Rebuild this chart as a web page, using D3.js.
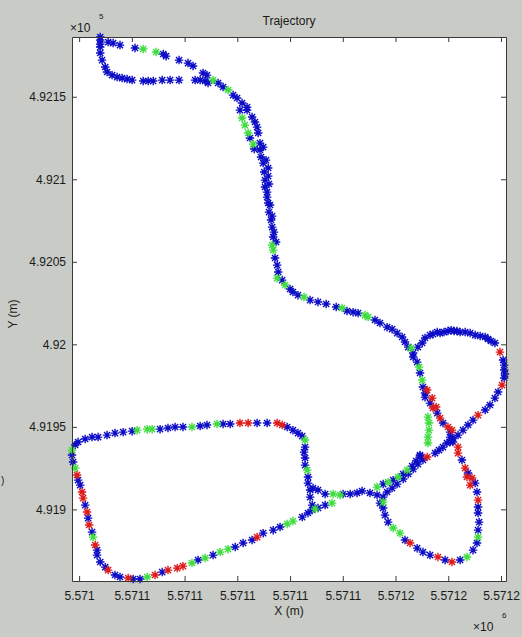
<!DOCTYPE html>
<html>
<head>
<meta charset="utf-8" />
<title>Trajectory</title>
<script src="https://d3js.org/d3.v7.min.js"></script>
<style>
body {
    margin: 0;
    background-color: #c9cbc6;
}
svg {
    display: block;
    font-family: "Liberation Sans", Arial, sans-serif;
}
</style>
</head>
<body>
<svg id="chart"></svg>
<script>
// local origin of the track, metres (UTM-like X / Y)
var east0 = 5571000;
var north0 = 491800;

// tick positions (offsets from the origin) and the labels matlab printed
var xTicks = [40, 60, 80, 100, 120, 140, 160, 180, 200];
var xTickLabels = ["5.571", "5.5711", "5.5711", "5.5711", "5.5711", "5.5711", "5.5712", "5.5712", "5.5712"];
var yTicks = [100, 150, 200, 250, 300, 350];
var yTickLabels = ["4.919", "4.9195", "4.92", "4.9205", "4.921", "4.9215"];

// track samples: [east offset, north offset, fix class]
var northLoop = [
    [48.0,386.2,"b"],[48.0,384.3,"b"],[48.0,381.9,"b"],[48.0,380.1,"b"],[51.0,383.1,"b"],[52.9,382.5,"b"],
    [55.5,381.3,"b"],[61.2,379.5,"b"],[64.3,378.9,"g"],[69.2,377.1,"g"],[71.9,375.9,"b"],[73.0,374.6,"b"],
    [77.9,372.2,"b"],[81.3,370.4,"b"],[83.2,368.6,"b"],[87.0,364.4,"b"],[88.5,363.1,"b"],[90.8,360.1,"g"],
    [92.7,358.3,"b"],[94.6,355.9,"b"],[96.5,354.1,"g"],[98.4,351.0,"b"],[99.9,349.2,"b"],[101.8,346.2,"b"],
    [103.7,343.7,"b"],[101.0,341.9,"b"],[103.7,341.9,"b"]
];
var northLoopSouth = [
    [48.0,376.5,"b"],[48.7,372.2,"b"],[49.9,368.0,"b"],[50.6,365.0,"b"],[52.5,363.1,"b"],[54.4,361.9,"b"],
    [56.3,361.3,"b"],[58.2,360.7,"b"],[60.1,360.1,"b"],[64.3,359.5,"b"],[66.2,359.5,"b"],[68.1,359.5,"b"],
    [71.5,360.1,"b"],[74.5,360.1,"b"],[77.9,360.1,"b"],[84.0,360.1,"b"],[85.9,360.1,"b"],[87.8,359.5,"b"],
    [88.9,358.3,"b"]
];
var descent = [
    [105.6,337.7,"b"],[106.7,334.7,"b"],[107.5,331.6,"b"],[107.9,328.0,"b"],[108.6,321.9,"b"],[109.8,319.5,"b"],
    [108.6,317.7,"b"],[109.0,313.5,"b"],[110.9,311.6,"b"],[109.8,309.8,"b"],[111.7,306.8,"b"],[110.2,304.4,"b"],
    [111.7,301.9,"b"],[110.5,299.5,"b"],[112.0,297.1,"b"],[110.5,295.3,"b"],[111.3,292.2,"b"],[111.3,289.2,"b"],
    [111.7,285.6,"b"],[112.4,284.4,"b"],[112.0,280.1,"b"],[113.2,277.7,"b"],[112.8,275.3,"b"],[113.2,271.0,"b"],
    [113.9,268.0,"b"],[113.6,265.0,"b"],[114.7,262.0,"b"],[113.2,260.1,"g"],[113.6,257.1,"g"],[114.3,252.3,"b"],
    [115.1,248.0,"b"],[115.5,243.8,"b"],[115.1,240.1,"g"],[117.0,238.9,"b"],[118.1,235.9,"g"],[120.0,233.5,"b"],
    [121.1,231.7,"b"],[123.0,229.8,"b"],[125.3,228.6,"g"],[127.6,226.8,"b"],[130.6,225.6,"b"],[133.7,224.4,"b"],
    [137.5,222.6,"b"],[139.7,222.0,"g"],[141.6,220.2,"b"],[143.9,219.5,"b"],[145.8,218.9,"b"],[148.4,217.7,"g"],
    [149.6,216.5,"g"],[152.2,214.7,"b"],[154.1,212.9,"b"],[156.8,210.4,"b"],[158.7,209.2,"b"],[160.6,206.8,"b"],
    [162.5,204.4,"b"],[163.6,201.4,"b"],[164.8,198.3,"b"],[165.9,197.7,"g"],[166.7,194.7,"b"],[166.7,192.3,"b"]
];
var innerDescent = [
    [101.8,337.1,"g"],[102.9,332.8,"g"],[104.1,328.0,"g"],[104.8,325.0,"b"],[106.0,321.3,"g"],[106.4,318.3,"b"]
];
var eastLoopNorth = [
    [168.5,198.3,"b"],[170.1,200.8,"b"],[171.2,203.8,"b"],[173.1,205.6,"b"],[174.2,206.2,"b"],[175.8,207.4,"b"],
    [176.9,206.8,"b"],[178.4,207.4,"b"],[179.9,208.0,"b"],[181.1,208.6,"b"],[182.2,208.0,"b"],[183.3,208.0,"b"],
    [184.5,207.4,"b"],[186.4,207.4,"b"],[188.3,206.8,"b"],[190.2,205.6,"b"],[192.1,205.0,"b"],[194.0,204.4,"b"],
    [195.1,203.2,"b"],[196.2,202.0,"b"],[197.7,200.8,"b"],[199.6,195.3,"r"],[200.8,190.5,"b"],[201.2,187.4,"b"],
    [201.2,184.4,"b"],[201.5,182.0,"b"],[201.2,179.6,"b"],[200.4,175.3,"r"],[198.9,171.1,"b"],[197.7,167.4,"b"],
    [195.8,163.2,"b"],[194.0,160.2,"b"],[191.3,157.1,"r"],[189.4,154.1,"b"],[187.5,151.1,"b"],[185.6,148.0,"b"],
    [183.7,145.0,"b"],[181.8,143.2,"b"],[180.7,140.8,"b"],[179.5,140.2,"b"],[178.0,137.7,"b"],[176.5,135.9,"b"],
    [175.0,134.1,"b"],[172.0,131.7,"r"],[169.3,132.9,"b"]
];
var crossingLinkUpper = [
    [153.0,113.5,"g"],[155.3,115.3,"b"],[157.2,116.5,"g"],[159.1,117.7,"b"],[161.0,119.6,"g"],[162.9,121.4,"b"],
    [164.4,123.8,"g"],[166.3,126.2,"b"],[167.8,129.3,"b"],[169.3,132.3,"b"]
];
var crossingLinkLower = [
    [155.3,107.4,"b"],[156.8,110.5,"b"],[158.7,112.9,"b"],[160.6,115.3,"b"],[162.9,118.4,"b"],[164.8,121.4,"b"],
    [166.7,124.4,"b"],[168.5,127.4,"b"],[170.4,129.9,"b"]
];
var eastLoopSouth = [
    [168.2,189.2,"b"],[168.9,186.2,"g"],[169.3,182.6,"b"],[170.1,178.3,"g"],[170.4,174.1,"b"],[172.0,172.3,"r"],
    [171.2,170.5,"b"],[171.2,168.0,"b"],[173.9,167.4,"r"],[173.1,164.4,"b"],[174.2,161.4,"r"],[175.4,162.0,"r"],
    [175.8,158.3,"b"],[176.9,155.3,"r"],[178.0,152.3,"b"],[179.9,149.9,"r"],[181.4,148.0,"r"],[180.7,146.8,"b"],
    [180.7,143.8,"b"],[181.8,140.8,"b"],[183.7,137.7,"r"],[183.7,134.1,"r"],[185.2,129.9,"b"],[186.4,125.0,"r"],
    [187.5,122.0,"b"],[189.0,119.0,"r"],[187.1,119.6,"r"],[188.3,114.7,"r"],[190.2,115.9,"b"],[190.9,110.5,"b"],
    [191.3,105.6,"r"],[191.3,101.4,"b"],[191.3,97.8,"b"],[191.7,92.3,"b"],[191.3,87.4,"b"],[191.3,83.2,"g"],
    [190.9,79.6,"b"],[189.4,75.3,"b"],[187.1,71.1,"g"],[184.5,69.3,"b"],[181.4,68.1,"r"],[178.8,69.3,"b"],
    [176.1,71.1,"r"],[173.1,72.3,"b"],[170.4,74.1,"b"],[168.2,76.5,"b"],[165.5,79.6,"r"],[163.6,81.4,"b"],
    [161.7,85.6,"g"],[159.1,88.7,"g"],[157.2,92.3,"b"],[156.0,96.5,"b"],[155.3,100.8,"b"],[155.3,104.4,"g"],
    [154.1,103.8,"b"]
];
var crossingGreen = [
    [172.3,155.9,"g"],[172.7,152.3,"g"],[172.7,148.0,"g"],[172.3,143.8,"g"],[172.3,140.2,"g"]
];
var westLink = [
    [153.0,108.7,"b"],[150.3,109.9,"b"],[147.3,111.1,"b"],[145.4,109.9,"b"],[142.8,109.3,"b"],[140.1,109.3,"b"],
    [139.0,108.7,"g"],[136.3,109.3,"g"],[133.3,109.3,"b"],[130.6,111.7,"b"],[128.7,112.9,"b"]
];
var blockNorthEast = [
    [37.3,135.9,"g"],[38.5,139.0,"b"],[39.6,140.8,"b"],[42.3,142.6,"b"],[44.9,143.8,"b"],[47.2,143.8,"b"],
    [50.6,145.0,"b"],[53.6,146.2,"b"],[56.7,146.8,"b"],[60.1,147.4,"b"],[62.0,148.0,"g"],[65.8,148.6,"g"],
    [67.7,148.6,"g"],[70.7,148.6,"b"],[73.7,149.3,"b"],[76.4,149.9,"b"],[79.4,149.9,"b"],[82.8,149.9,"g"],
    [85.9,150.5,"b"],[88.5,151.1,"b"],[92.3,151.7,"g"],[94.6,151.7,"b"],[97.3,151.7,"b"],[101.0,152.3,"r"],
    [104.1,152.3,"r"],[107.5,152.3,"b"],[111.3,152.3,"b"],[115.1,152.3,"r"],[117.0,151.1,"r"],[118.9,149.9,"b"],
    [121.1,148.0,"b"],[123.0,146.2,"b"],[124.6,144.4,"b"],[125.7,142.0,"g"],[125.7,137.7,"b"],[125.3,134.7,"b"],
    [125.7,131.1,"b"],[125.7,126.8,"b"],[126.5,123.8,"g"],[126.8,119.6,"b"],[126.8,115.9,"b"],[127.6,111.7,"b"],
    [127.6,107.4,"b"],[128.4,102.6,"b"],[129.5,100.2,"g"],[130.6,100.8,"b"],[133.3,102.6,"b"],[135.9,103.8,"g"]
];
var blockSouthWest = [
    [37.3,132.9,"b"],[37.7,128.7,"b"],[38.5,125.0,"g"],[39.2,120.8,"r"],[39.6,117.7,"b"],[40.4,114.7,"b"],
    [41.1,110.5,"r"],[41.5,106.8,"r"],[42.3,102.6,"b"],[43.0,98.4,"r"],[43.4,94.7,"b"],[43.8,90.5,"r"],
    [44.9,86.2,"b"],[45.3,83.2,"g"],[46.1,78.4,"r"],[46.8,75.3,"b"],[46.8,72.3,"b"],[48.0,68.1,"b"],
    [49.9,65.0,"b"],[51.0,63.2,"r"],[53.6,60.2,"b"],[55.5,59.0,"b"],[58.6,58.4,"r"],[60.5,57.8,"b"],
    [63.1,57.8,"b"],[65.8,59.0,"g"],[68.8,60.2,"r"],[71.5,62.0,"b"],[73.7,63.2,"r"],[77.2,64.4,"r"],
    [79.4,65.6,"r"],[82.8,67.5,"g"],[85.1,69.3,"b"],[87.8,70.5,"g"],[90.8,72.3,"b"],[93.5,74.1,"g"],
    [96.5,75.9,"g"],[99.2,77.2,"b"],[102.2,79.6,"b"],[105.6,81.4,"b"],[107.5,83.2,"r"],[109.8,85.6,"b"],
    [113.6,87.4,"b"],[116.2,89.3,"b"],[118.9,91.1,"g"],[121.1,92.9,"g"],[124.6,95.3,"b"],[126.8,97.8,"b"],
    [128.4,99.6,"b"]
];

var fixColors = { b: "#0b0bc6", g: "#3fdc3f", r: "#dc1b1b" };
var drawOrder = ["b", "g", "r"];

var width = 522;
var height = 637;
var margin = { top: 37, right: 16, bottom: 56, left: 72 };

var svg = d3.select("#chart")
    .attr("width", width)
    .attr("height", height);

var x = d3.scaleLinear()
    .domain([east0 + 37.3, east0 + 201.9])
    .range([margin.left, width - margin.right]);

var y = d3.scaleLinear()
    .domain([north0 + 56.6, north0 + 386.2])
    .range([height - margin.bottom, margin.top]);

// white axes area
svg.append("rect")
    .attr("x", margin.left)
    .attr("y", margin.top)
    .attr("width", width - margin.left - margin.right)
    .attr("height", height - margin.top - margin.bottom)
    .attr("fill", "#ffffff");

// matlab style '*' marker: plus and cross together
var asterisk = {
    draw: function(context, size) {
        var r = Math.sqrt(size) / 2;
        var d = r * 0.72;
        context.moveTo(-r, 0); context.lineTo(r, 0);
        context.moveTo(0, -r); context.lineTo(0, r);
        context.moveTo(-d, -d); context.lineTo(d, d);
        context.moveTo(-d, d); context.lineTo(d, -d);
    }
};
var marker = d3.symbol().type(asterisk).size(72);

var track = [].concat(northLoop, northLoopSouth, innerDescent, descent, eastLoopNorth,
    crossingLinkUpper, crossingLinkLower, eastLoopSouth, crossingGreen, westLink,
    blockNorthEast, blockSouthWest);

var shapes = svg.append("g").attr("id", "shapes");
drawOrder.forEach(function(fix) {
    shapes.append("g")
        .selectAll("path")
        .data(track.filter(function(d) { return d[2] === fix; }))
        .enter().append("path")
        .attr("transform", function(d) {
            return "translate(" + x(east0 + d[0]) + "," + y(north0 + d[1]) + ")";
        })
        .attr("d", marker)
        .attr("fill", "none")
        .attr("stroke", fixColors[fix])
        .attr("stroke-width", 1.4);
});

// axes, ticks pointing inwards like matlab
function styleAxis(g) {
    g.attr("font-family", "Liberation Sans, Arial, sans-serif")
     .attr("font-size", 12);
    g.selectAll("path").attr("stroke", "#3a3a3a");
    g.selectAll("line").attr("stroke", "#3a3a3a");
    g.selectAll("text").attr("fill", "#1a1a1a");
}

var xVals = xTicks.map(function(d) { return east0 + d; });
var yVals = yTicks.map(function(d) { return north0 + d; });

svg.append("g")
    .attr("transform", "translate(0," + (height - margin.bottom) + ")")
    .call(d3.axisBottom(x).tickValues(xVals)
        .tickFormat(function(d, i) { return xTickLabels[i]; })
        .tickSizeInner(-5).tickSizeOuter(0).tickPadding(10))
    .call(styleAxis);

svg.append("g")
    .attr("transform", "translate(0," + margin.top + ")")
    .call(d3.axisTop(x).tickValues(xVals).tickFormat("")
        .tickSizeInner(-5).tickSizeOuter(0))
    .call(styleAxis);

svg.append("g")
    .attr("transform", "translate(" + margin.left + ",0)")
    .call(d3.axisLeft(y).tickValues(yVals)
        .tickFormat(function(d, i) { return yTickLabels[i]; })
        .tickSizeInner(-5).tickSizeOuter(0).tickPadding(6))
    .call(styleAxis);

svg.append("g")
    .attr("transform", "translate(" + (width - margin.right) + ",0)")
    .call(d3.axisRight(y).tickValues(yVals).tickFormat("")
        .tickSizeInner(-5).tickSizeOuter(0))
    .call(styleAxis);

// titles and exponent labels
var labels = svg.append("g")
    .attr("font-size", 12)
    .attr("fill", "#1a1a1a");

labels.append("text")
    .attr("x", (margin.left + width - margin.right) / 2)
    .attr("y", 25)
    .attr("text-anchor", "middle")
    .text("Trajectory");

labels.append("text")
    .attr("x", (margin.left + width - margin.right) / 2)
    .attr("y", 615)
    .attr("text-anchor", "middle")
    .text("X (m)");

labels.append("text")
    .attr("transform", "translate(17,314) rotate(-90)")
    .attr("text-anchor", "middle")
    .text("Y (m)");

labels.append("text")
    .attr("x", 1)
    .attr("y", 484)
    .attr("font-size", 10)
    .text(")");

labels.append("text")
    .attr("x", 70)
    .attr("y", 32)
    .text("\u00d710");
labels.append("text")
    .attr("x", 99)
    .attr("y", 19)
    .attr("font-size", 8)
    .text("5");

labels.append("text")
    .attr("x", 473)
    .attr("y", 631)
    .text("\u00d710");
labels.append("text")
    .attr("x", 502)
    .attr("y", 618)
    .attr("font-size", 8)
    .text("6");
</script>
</body>
</html>
